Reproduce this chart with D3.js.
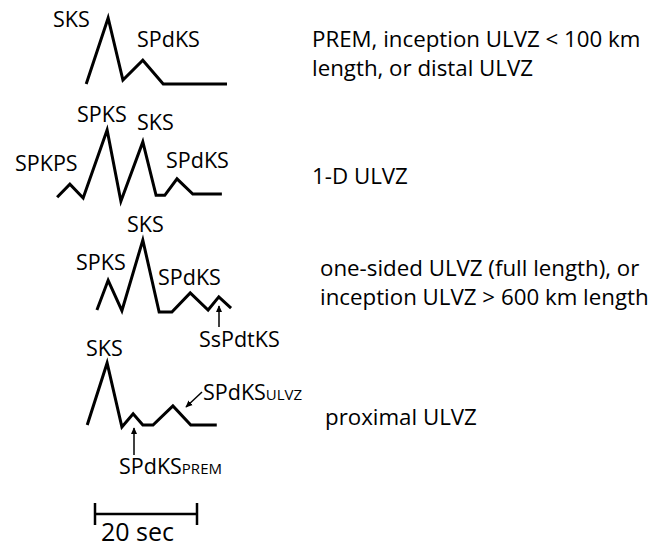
<!DOCTYPE html>
<html><head><meta charset="utf-8">
<script src="https://cdn.jsdelivr.net/npm/d3@7"></script>
<style>
html,body{margin:0;padding:0;background:#fff;}
svg text{font-family:"Open Sans","Noto Sans",sans-serif;fill:#000;}
</style></head>
<body><svg id="c" width="668" height="547"></svg>
<script>
// ---- data: schematic seismogram traces (time in s, amplitude relative to SKS peak)
const trace1Time = [7.1, 11.4, 14.3, 18.2, 22.2, 34.7];
const trace1Amp  = [0, 1.0, 0.06, 0.36, 0, 0];
const trace2Time = [1.4, 3.9, 6.5, 11.2, 13.9, 18.2, 20.8, 22.5, 24.9, 28.0, 33.7];
const trace2Amp  = [-0.05, 0.15, -0.06, 0.97, -0.11, 0.79, -0.02, -0.02, 0.23, 0, 0];
const trace3Time = [9.2, 11.4, 14.1, 18.2, 21.4, 23.9, 27.5, 31.0, 33.1, 35.5];
const trace3Amp  = [0.03, 0.48, 0.02, 1.09, 0, 0, 0.29, 0.03, 0.23, 0.06];
const trace4Time = [7.3, 11.2, 14.1, 16.3, 18.2, 20.2, 24.1, 27.6, 32.7];
const trace4Amp  = [0, 0.94, -0.03, 0.17, 0, 0, 0.29, 0, 0];
const captions = [
  ["PREM, inception ULVZ < 100 km", "length, or distal ULVZ"],
  ["1-D ULVZ"],
  ["one-sided ULVZ (full length), or", "inception ULVZ > 600 km length"],
  ["proximal ULVZ"]
];
const scaleBarSeconds = 20;
const scaleBarLabel = "20 sec";

// ---- layout
const svg = d3.select("#c");
const x = d3.scaleLinear().domain([0, 40]).range([50, 254]);
const ampPx = 66;
const baselines = [84, 194, 312, 425];
const traces = [
  {t: trace1Time, a: trace1Amp},
  {t: trace2Time, a: trace2Amp},
  {t: trace3Time, a: trace3Amp},
  {t: trace4Time, a: trace4Amp}
];
const FS = 21.5, CFS = 22.3;

svg.append("defs").append("marker")
  .attr("id","ah").attr("viewBox","0 0 10 10").attr("refX",9).attr("refY",5)
  .attr("markerWidth",7).attr("markerHeight",7).attr("orient","auto")
  .attr("markerUnits","userSpaceOnUse")
  .append("path").attr("d","M0,0.5 L10,5 L0,9.5 Z").attr("fill","#000");

traces.forEach((tr, i) => {
  const y = d3.scaleLinear().domain([0, 1]).range([baselines[i], baselines[i] - ampPx]);
  const pts = tr.t.map((t, k) => [t, tr.a[k]]);
  const line = d3.line().x(d => x(d[0])).y(d => y(d[1]));
  svg.append("path").attr("d", line(pts))
    .attr("fill","none").attr("stroke","#000").attr("stroke-width",3)
    .attr("stroke-linejoin","miter").attr("stroke-miterlimit",10);
});

function label(txt, px, py, sub) {
  const t = svg.append("text").attr("x", px).attr("y", py).attr("font-size", FS);
  t.append("tspan").text(txt);
  if (sub) t.append("tspan").attr("font-size", 15).text(sub);
  return t;
}
// trace 1
label("SKS", 53, 27);
label("SPdKS", 137, 47);
// trace 2
label("SPKPS", 15, 171);
label("SPKS", 77, 122);
label("SKS", 137, 130);
label("SPdKS", 166, 168);
// trace 3
label("SKS", 127, 232);
label("SPKS", 76, 270);
label("SPdKS", 158, 285);
label("SsPdtKS", 199, 347);
// trace 4
label("SKS", 86, 356);
label("SPdKS", 203, 400, "ULVZ");
label("SPdKS", 119, 474, "PREM");

function arrow(x1, y1, x2, y2) {
  svg.append("line").attr("x1",x1).attr("y1",y1).attr("x2",x2).attr("y2",y2)
    .attr("stroke","#000").attr("stroke-width",1.5).attr("marker-end","url(#ah)");
}
arrow(219, 327, 219, 306);
arrow(202, 392, 186, 407);
arrow(134, 455, 134, 428);

// captions
const capPos = [[312, 47], [312, 184], [320, 276], [325, 425]];
captions.forEach((lines, i) => {
  lines.forEach((ln, j) => {
    svg.append("text").attr("x", capPos[i][0]).attr("y", capPos[i][1] + j * 28.5)
      .attr("font-size", CFS).text(ln);
  });
});

// scale bar
const sbX0 = 95, sbY = 514;
const sbLen = x(scaleBarSeconds) - x(0);
const sb = svg.append("g").attr("stroke","#000").attr("stroke-width",2.5);
sb.append("line").attr("x1",sbX0).attr("x2",sbX0+sbLen).attr("y1",sbY).attr("y2",sbY);
sb.append("line").attr("x1",sbX0).attr("x2",sbX0).attr("y1",503).attr("y2",525);
sb.append("line").attr("x1",sbX0+sbLen).attr("x2",sbX0+sbLen).attr("y1",503).attr("y2",525);
svg.append("text").attr("x", 101).attr("y", 541).attr("font-size", 25).text(scaleBarLabel);
</script></body></html>
